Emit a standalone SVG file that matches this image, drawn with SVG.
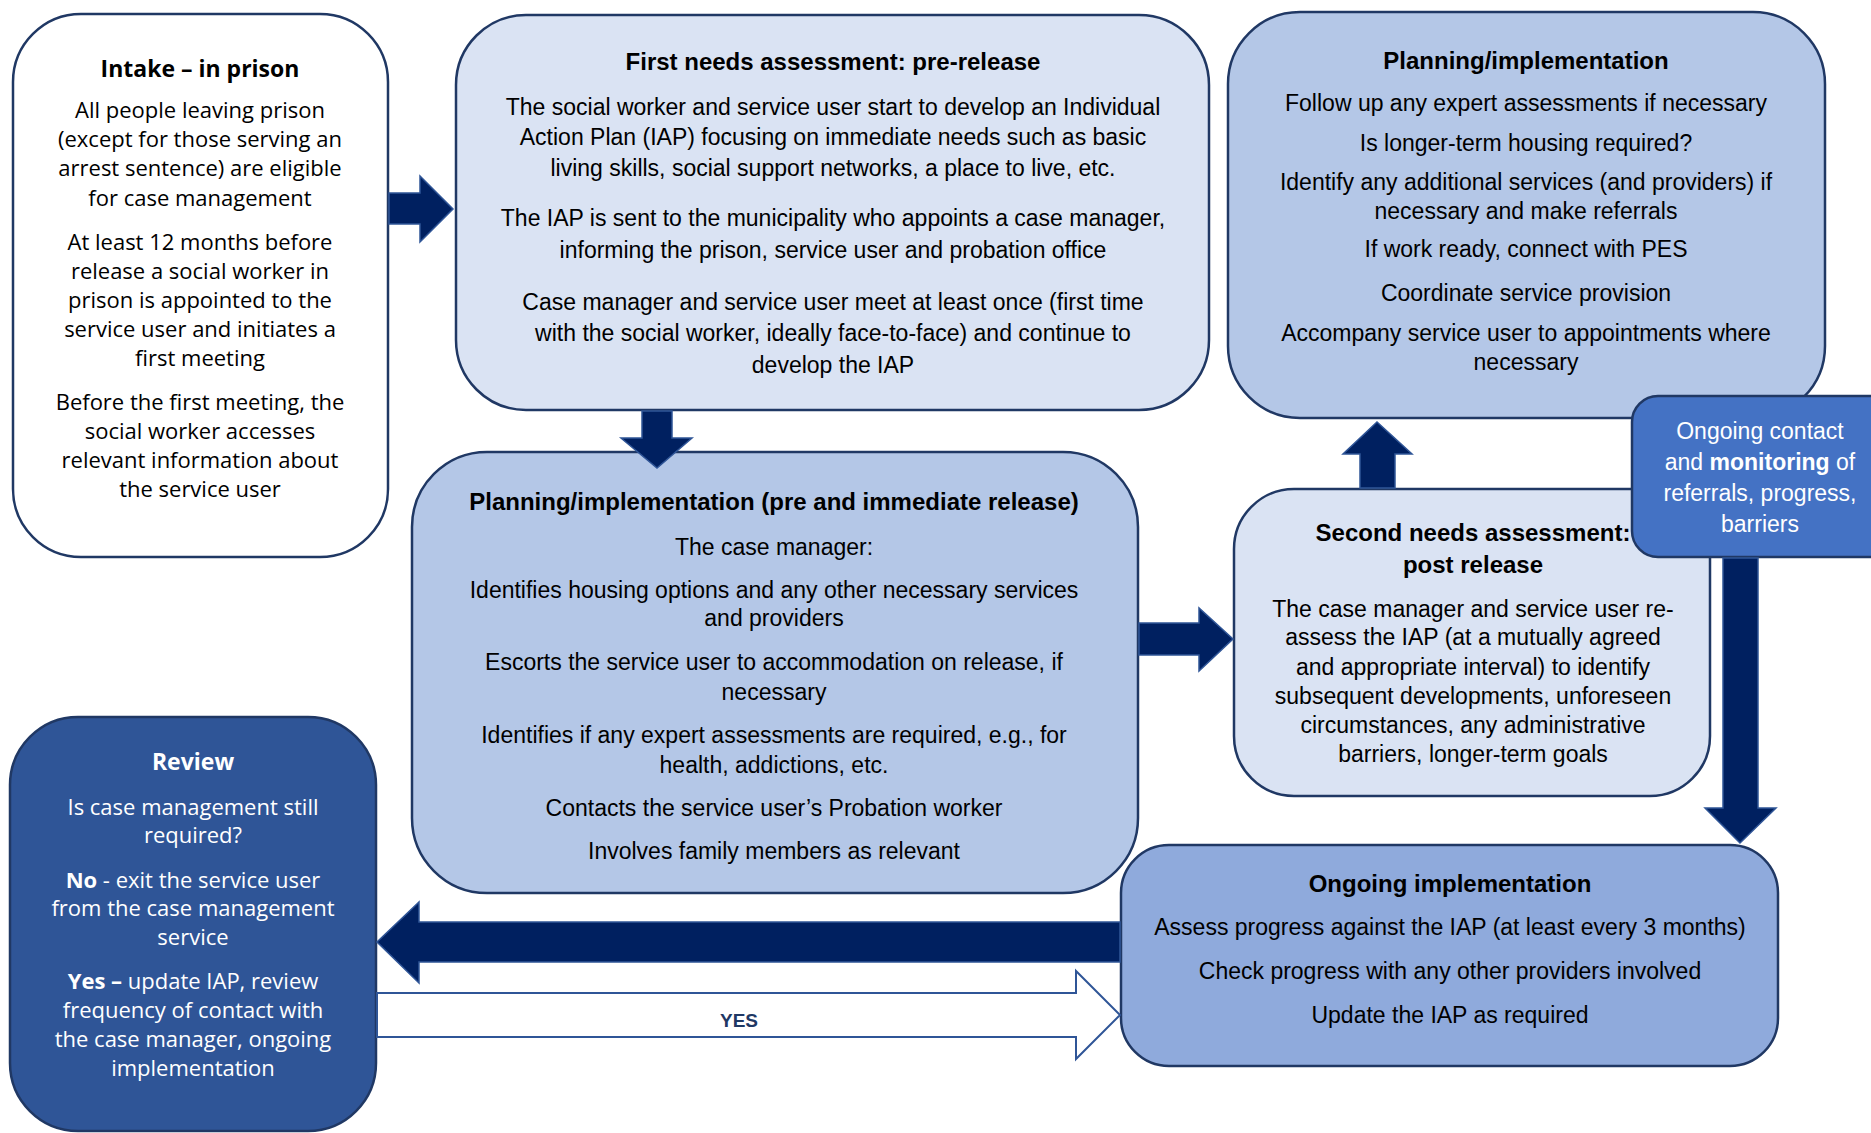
<svg xmlns="http://www.w3.org/2000/svg" width="1871" height="1133" viewBox="0 0 1871 1133">
<style>
.box{stroke:#203864;stroke-width:2.5}
.t{font-family:"Liberation Sans",Arial,sans-serif;font-size:23px;text-anchor:middle;fill:#000}
.h{font-weight:bold;font-size:24px}
.o{font-family:"Open Sans","Liberation Sans",sans-serif;font-size:22px}
.oh{font-weight:bold;font-size:23px}
.w{fill:#fff}
.b{font-weight:bold}
.arrow{fill:#002060;stroke:#2F5597;stroke-width:1.5;stroke-linejoin:miter}
.hollow{fill:#fff;stroke:#2F5597;stroke-width:2}
.yes{font-family:"Liberation Sans",Arial,sans-serif;font-size:19px;font-weight:bold;fill:#1F3864;text-anchor:middle}
</style>
<rect width="1871" height="1133" fill="#fff"/>

<g id="intake">
<rect class="box" x="13" y="14" width="375" height="543" rx="68" fill="#fff"/>
<text class="t o oh" x="200" y="77">Intake – in prison</text>
<text class="t o" x="200" y="118">All people leaving prison</text>
<text class="t o" x="200" y="147">(except for those serving an</text>
<text class="t o" x="200" y="176">arrest sentence) are eligible</text>
<text class="t o" x="200" y="206">for case management</text>
<text class="t o" x="200" y="250">At least 12 months before</text>
<text class="t o" x="200" y="279">release a social worker in</text>
<text class="t o" x="200" y="308">prison is appointed to the</text>
<text class="t o" x="200" y="337">service user and initiates a</text>
<text class="t o" x="200" y="366">first meeting</text>
<text class="t o" x="200" y="410">Before the first meeting, the</text>
<text class="t o" x="200" y="439">social worker accesses</text>
<text class="t o" x="200" y="468">relevant information about</text>
<text class="t o" x="200" y="497">the service user</text>
</g>

<g id="first-needs">
<rect class="box" x="456" y="15" width="753" height="395" rx="70" fill="#DAE3F3"/>
<text class="t h" x="833" y="70">First needs assessment: pre-release</text>
<text class="t" x="833" y="115">The social worker and service user start to develop an Individual</text>
<text class="t" x="833" y="145">Action Plan (IAP) focusing on immediate needs such as basic</text>
<text class="t" x="833" y="176">living skills, social support networks, a place to live, etc.</text>
<text class="t" x="833" y="226">The IAP is sent to the municipality who appoints a case manager,</text>
<text class="t" x="833" y="258">informing the prison, service user and probation office</text>
<text class="t" x="833" y="310">Case manager and service user meet at least once (first time</text>
<text class="t" x="833" y="341">with the social worker, ideally face-to-face) and continue to</text>
<text class="t" x="833" y="373">develop the IAP</text>
</g>

<g id="planning-top">
<rect class="box" x="1228" y="12" width="597" height="406" rx="72" fill="#B4C7E7"/>
<text class="t h" x="1526" y="69">Planning/implementation</text>
<text class="t" x="1526" y="111">Follow up any expert assessments if necessary</text>
<text class="t" x="1526" y="151">Is longer-term housing required?</text>
<text class="t" x="1526" y="190">Identify any additional services (and providers) if</text>
<text class="t" x="1526" y="219">necessary and make referrals</text>
<text class="t" x="1526" y="257">If work ready, connect with PES</text>
<text class="t" x="1526" y="301">Coordinate service provision</text>
<text class="t" x="1526" y="341">Accompany service user to appointments where</text>
<text class="t" x="1526" y="370">necessary</text>
</g>

<g id="planning-pre">
<rect class="box" x="412" y="452" width="726" height="441" rx="75" fill="#B4C7E7"/>
<text class="t h" x="774" y="510">Planning/implementation (pre and immediate release)</text>
<text class="t" x="774" y="555">The case manager:</text>
<text class="t" x="774" y="598">Identifies housing options and any other necessary services</text>
<text class="t" x="774" y="626">and providers</text>
<text class="t" x="774" y="670">Escorts the service user to accommodation on release, if</text>
<text class="t" x="774" y="700">necessary</text>
<text class="t" x="774" y="743">Identifies if any expert assessments are required, e.g., for</text>
<text class="t" x="774" y="773">health, addictions, etc.</text>
<text class="t" x="774" y="816">Contacts the service user’s Probation worker</text>
<text class="t" x="774" y="859">Involves family members as relevant</text>
</g>

<g id="second-needs">
<rect class="box" x="1234" y="489" width="476" height="307" rx="60" fill="#DAE3F3"/>
<text class="t h" x="1473" y="541">Second needs assessment:</text>
<text class="t h" x="1473" y="573">post release</text>
<text class="t" x="1473" y="617">The case manager and service user re-</text>
<text class="t" x="1473" y="645">assess the IAP (at a mutually agreed</text>
<text class="t" x="1473" y="675">and appropriate interval) to identify</text>
<text class="t" x="1473" y="704">subsequent developments, unforeseen</text>
<text class="t" x="1473" y="733">circumstances, any administrative</text>
<text class="t" x="1473" y="762">barriers, longer-term goals</text>
</g>

<g id="ongoing-contact">
<rect class="box" x="1632" y="396" width="270" height="161" rx="26" fill="#4472C4"/>
<text class="t w" x="1760" y="439">Ongoing contact</text>
<text class="t w" x="1760" y="470">and <tspan class="b">monitoring</tspan> of</text>
<text class="t w" x="1760" y="501">referrals, progress,</text>
<text class="t w" x="1760" y="532">barriers</text>
</g>

<g id="review">
<rect class="box" x="10" y="717" width="366" height="414" rx="68" fill="#2F5597"/>
<text class="t o oh w" x="193" y="770">Review</text>
<text class="t o w" x="193" y="815">Is case management still</text>
<text class="t o w" x="193" y="843">required?</text>
<text class="t o w" x="193" y="888"><tspan class="b">No</tspan> - exit the service user</text>
<text class="t o w" x="193" y="916">from the case management</text>
<text class="t o w" x="193" y="945">service</text>
<text class="t o w" x="193" y="989"><tspan class="b">Yes –</tspan> update IAP, review</text>
<text class="t o w" x="193" y="1018">frequency of contact with</text>
<text class="t o w" x="193" y="1047">the case manager, ongoing</text>
<text class="t o w" x="193" y="1076">implementation</text>
</g>

<g id="ongoing-implementation">
<rect class="box" x="1121" y="845" width="657" height="221" rx="48" fill="#8FAADC"/>
<text class="t h" x="1450" y="892">Ongoing implementation</text>
<text class="t" x="1450" y="935">Assess progress against the IAP (at least every 3 months)</text>
<text class="t" x="1450" y="979">Check progress with any other providers involved</text>
<text class="t" x="1450" y="1023">Update the IAP as required</text>
</g>

<g id="connectors">
<polygon class="arrow" points="389,193 420,193 420,176 453,209 420,242 420,224 389,224"/>
<polygon class="arrow" points="642,411 672,411 672,438 692,438 657,468 621,438 642,438"/>
<polygon class="arrow" points="1139,623 1199,623 1199,608 1233,639 1199,671 1199,655 1139,655"/>
<polygon class="arrow" points="1360,488 1360,454 1343,454 1377,422 1412,454 1395,454 1395,488"/>
<polygon class="arrow" points="1723,558 1758,558 1758,808 1776,808 1740,843 1705,808 1723,808"/>
<polygon class="arrow" points="1120,922 419,922 419,902 377,942 419,983 419,962 1120,962"/>
<polygon class="hollow" points="377,993 1076,993 1076,971 1120,1015 1076,1059 1076,1037 377,1037"/>
<text class="yes" x="739" y="1027">YES</text>
</g>
</svg>
